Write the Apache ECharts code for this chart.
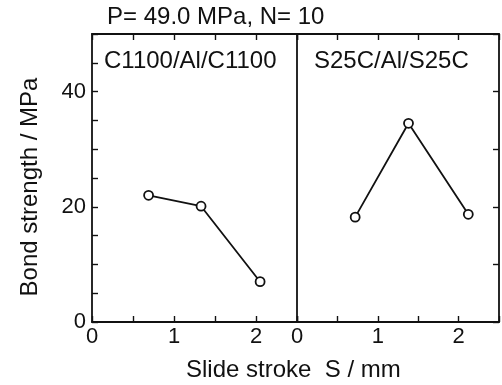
<!DOCTYPE html>
<html>
<head>
<meta charset="utf-8" />
<title>Bond strength</title>
<script src="https://cdn.jsdelivr.net/npm/echarts@6/dist/echarts.min.js"></script>
<style>
  body { margin: 0; background: #fff; }
  #main { width: 502px; height: 385px; }
</style>
</head>
<body>
<div id="main"></div>
<script type="text/javascript">
    // data
    var leftStroke = [0.69, 1.33, 2.05];
    var leftStrength = [22.0, 20.1, 7.0];
    var rightStroke = [0.72, 1.38, 2.12];
    var rightStrength = [18.2, 34.5, 18.7];
    var xTickLabels = ['0', '1', '2'];
    var yTickLabels = ['0', '20', '40'];

    function pairs(xs, ys) {
        var out = [];
        for (var i = 0; i < xs.length; i++) {
            out.push([xs[i], ys[i]]);
        }
        return out;
    }

    var ink = '#111';
    var font = 'Liberation Sans, Arial, sans-serif';
    var textSize = 24;

    function bottomAxis(grid) {
        return {
            type: 'value', gridIndex: grid, position: 'bottom',
            min: 0, max: 2.5, interval: 0.5,
            axisLine: { show: true, onZero: false, lineStyle: { color: ink, width: 1.8 } },
            axisTick: { show: true, inside: true, length: 6, lineStyle: { color: ink, width: 1.4 } },
            axisLabel: {
                color: ink, fontFamily: font, fontSize: 22, margin: 4,
                formatter: function (v) {
                    return xTickLabels.indexOf(String(v)) >= 0 ? String(v) : '';
                }
            },
            splitLine: { show: false }
        };
    }
    function topAxis(grid) {
        return {
            type: 'value', gridIndex: grid, position: 'top',
            min: 0, max: 2.5, interval: 0.5,
            axisLine: { show: true, onZero: false, lineStyle: { color: ink, width: 1.8 } },
            axisTick: { show: true, inside: true, length: 6, lineStyle: { color: ink, width: 1.4 } },
            axisLabel: { show: false },
            splitLine: { show: false }
        };
    }

    var pointStyle = {
        type: 'line',
        symbol: 'circle',
        symbolSize: 9,
        itemStyle: { color: '#fff', borderColor: ink, borderWidth: 1.8 },
        lineStyle: { color: ink, width: 1.8 },
        z: 5
    };

    function label(text, left, top) {
        return { text: text, left: left, top: top, padding: 0,
                 textStyle: { fontFamily: font, fontSize: textSize, fontWeight: 'normal', color: ink } };
    }

    var option = {
        backgroundColor: '#fff',
        animation: false,
        title: [
            label('P= 49.0 MPa, N= 10', 107, 5),
            label('C1100/Al/C1100', 104, 49),
            label('S25C/Al/S25C', 314, 49),
            label('Slide stroke  S / mm', 186, 358)
        ],
        graphic: [{
            type: 'text',
            x: 30, y: 187,
            rotation: Math.PI / 2,
            style: {
                text: 'Bond strength / MPa',
                font: textSize + 'px ' + font,
                fill: ink,
                align: 'center',
                verticalAlign: 'middle'
            }
        }],
        grid: [
            { left: 92, top: 34, width: 205, height: 288 },
            { left: 297, top: 34, width: 207, height: 288 }
        ],
        xAxis: [bottomAxis(0), topAxis(0), bottomAxis(1), topAxis(1)],
        yAxis: [
            {
                type: 'value', gridIndex: 0, position: 'left',
                min: 0, max: 50, interval: 5,
                axisLine: { show: true, onZero: false, lineStyle: { color: ink, width: 1.8 } },
                axisTick: { show: true, inside: true, length: 6, lineStyle: { color: ink, width: 1.4 } },
                axisLabel: {
                    color: ink, fontFamily: font, fontSize: 22, margin: 6,
                    formatter: function (v) {
                        return yTickLabels.indexOf(String(v)) >= 0 ? String(v) : '';
                    }
                },
                splitLine: { show: false }
            },
            {
                type: 'value', gridIndex: 1, position: 'left',
                min: 0, max: 50, interval: 10,
                axisLine: { show: true, onZero: false, lineStyle: { color: ink, width: 1.8 } },
                axisTick: { show: false },
                axisLabel: { show: false },
                splitLine: { show: false }
            },
            {
                type: 'value', gridIndex: 1, position: 'right',
                min: 0, max: 50, interval: 10,
                axisLine: { show: true, onZero: false, lineStyle: { color: ink, width: 1.8 } },
                axisTick: { show: true, inside: true, length: 6, lineStyle: { color: ink, width: 1.4 } },
                axisLabel: { show: false },
                splitLine: { show: false }
            }
        ],
        series: [
            Object.assign({ name: 'C1100/Al/C1100', xAxisIndex: 0, yAxisIndex: 0,
                data: pairs(leftStroke, leftStrength) }, pointStyle),
            Object.assign({ name: 'S25C/Al/S25C', xAxisIndex: 2, yAxisIndex: 1,
                data: pairs(rightStroke, rightStrength) }, pointStyle)
        ]
    };

    var myChart = echarts.init(document.getElementById('main'));
    myChart.setOption(option);
</script>
</body>
</html>
